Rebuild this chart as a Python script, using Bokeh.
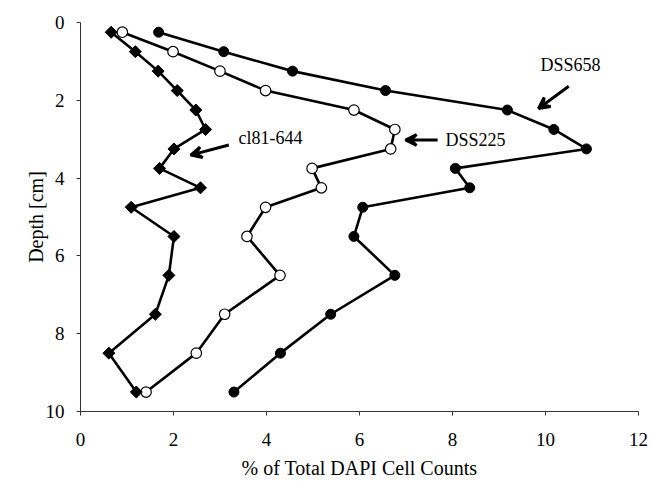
import math
from bokeh.plotting import figure
from bokeh.models import Range1d, FixedTicker, Label, Arrow, VeeHead
from bokeh.embed import file_html
from bokeh.resources import INLINE

depth = [0.25, 0.75, 1.25, 1.75, 2.25, 2.75, 3.25, 3.75, 4.25, 4.75, 5.5, 6.5, 7.5, 8.5, 9.5]
dss658 = [1.68, 3.08, 4.56, 6.56, 9.18, 10.18, 10.88, 8.06, 8.37, 6.07, 5.88, 6.76, 5.38, 4.30, 3.30]
dss225 = [0.90, 1.99, 3.00, 3.98, 5.88, 6.76, 6.67, 4.98, 5.18, 3.98, 3.58, 4.29, 3.10, 2.49, 1.41]
cl81 = [0.66, 1.18, 1.67, 2.08, 2.48, 2.69, 2.01, 1.70, 2.58, 1.09, 2.01, 1.90, 1.61, 0.61, 1.20]
x_ticks = [0, 2, 4, 6, 8, 10, 12]
y_ticks = [0, 2, 4, 6, 8, 10]

FONT = "Liberation Serif"

p = figure(width=650, height=481, output_backend="svg", toolbar_location=None,
           x_range=Range1d(0, 12), y_range=Range1d(10, 0),
           min_border_left=80, min_border_right=12, min_border_top=22, min_border_bottom=69)
p.outline_line_color = None
p.xgrid.visible = False
p.ygrid.visible = False
p.background_fill_color = "white"
p.border_fill_color = "white"

p.xaxis.ticker = FixedTicker(ticks=x_ticks)
p.yaxis.ticker = FixedTicker(ticks=y_ticks)
for ax in (p.xaxis, p.yaxis):
    ax.axis_line_color = "#333333"
    ax.axis_line_width = 1
    ax.major_tick_line_color = "#333333"
    ax.major_tick_in = 0
    ax.major_tick_out = 4
    ax.minor_tick_line_color = None
    ax.major_label_text_font = FONT
    ax.major_label_text_font_size = "19px"
    ax.major_label_text_color = "black"
    ax.axis_label_text_font = FONT
    ax.axis_label_text_font_size = "20px"
    ax.axis_label_text_font_style = "normal"
    ax.axis_label_text_color = "black"

p.xaxis.axis_label = "% of Total DAPI Cell Counts"
p.yaxis.axis_label = "Depth [cm]"
p.xaxis.major_label_standoff = 17
p.xaxis.axis_label_standoff = 8
p.yaxis.major_label_standoff = 12
p.yaxis.axis_label_standoff = -4

LW = 2.6
p.line(dss658, depth, line_color="black", line_width=LW)
p.line(dss225, depth, line_color="black", line_width=LW)
p.line(cl81, depth, line_color="black", line_width=LW)

p.scatter(dss658, depth, marker="circle", size=10, fill_color="black", line_color="black")
p.scatter(dss225, depth, marker="circle", size=10.5, fill_color="white", line_color="black", line_width=1.2)
p.scatter(cl81, depth, marker="square", size=8.5, angle=math.pi / 4,
          fill_color="black", line_color="black")

lab_kw = dict(text_font=FONT, text_font_size="18px", text_color="black",
              text_baseline="middle", text_align="left")
p.add_layout(Label(x=9.89, y=1.09, text="DSS658", **lab_kw))
p.add_layout(Label(x=7.85, y=3.03, text="DSS225", **lab_kw))
p.add_layout(Label(x=3.40, y=2.98, text="cl81-644", **lab_kw))

def arrow(x0, y0, x1, y1):
    p.add_layout(Arrow(end=VeeHead(size=11, line_width=3, line_color="black", fill_color="black"),
                       x_start=x0, y_start=y0, x_end=x1, y_end=y1,
                       line_width=3, line_color="black"))

arrow(10.50, 1.64, 9.85, 2.21)
arrow(7.68, 3.02, 6.99, 3.02)
arrow(3.19, 3.15, 2.37, 3.41)

open("out.html", "w").write(file_html(p, INLINE))
